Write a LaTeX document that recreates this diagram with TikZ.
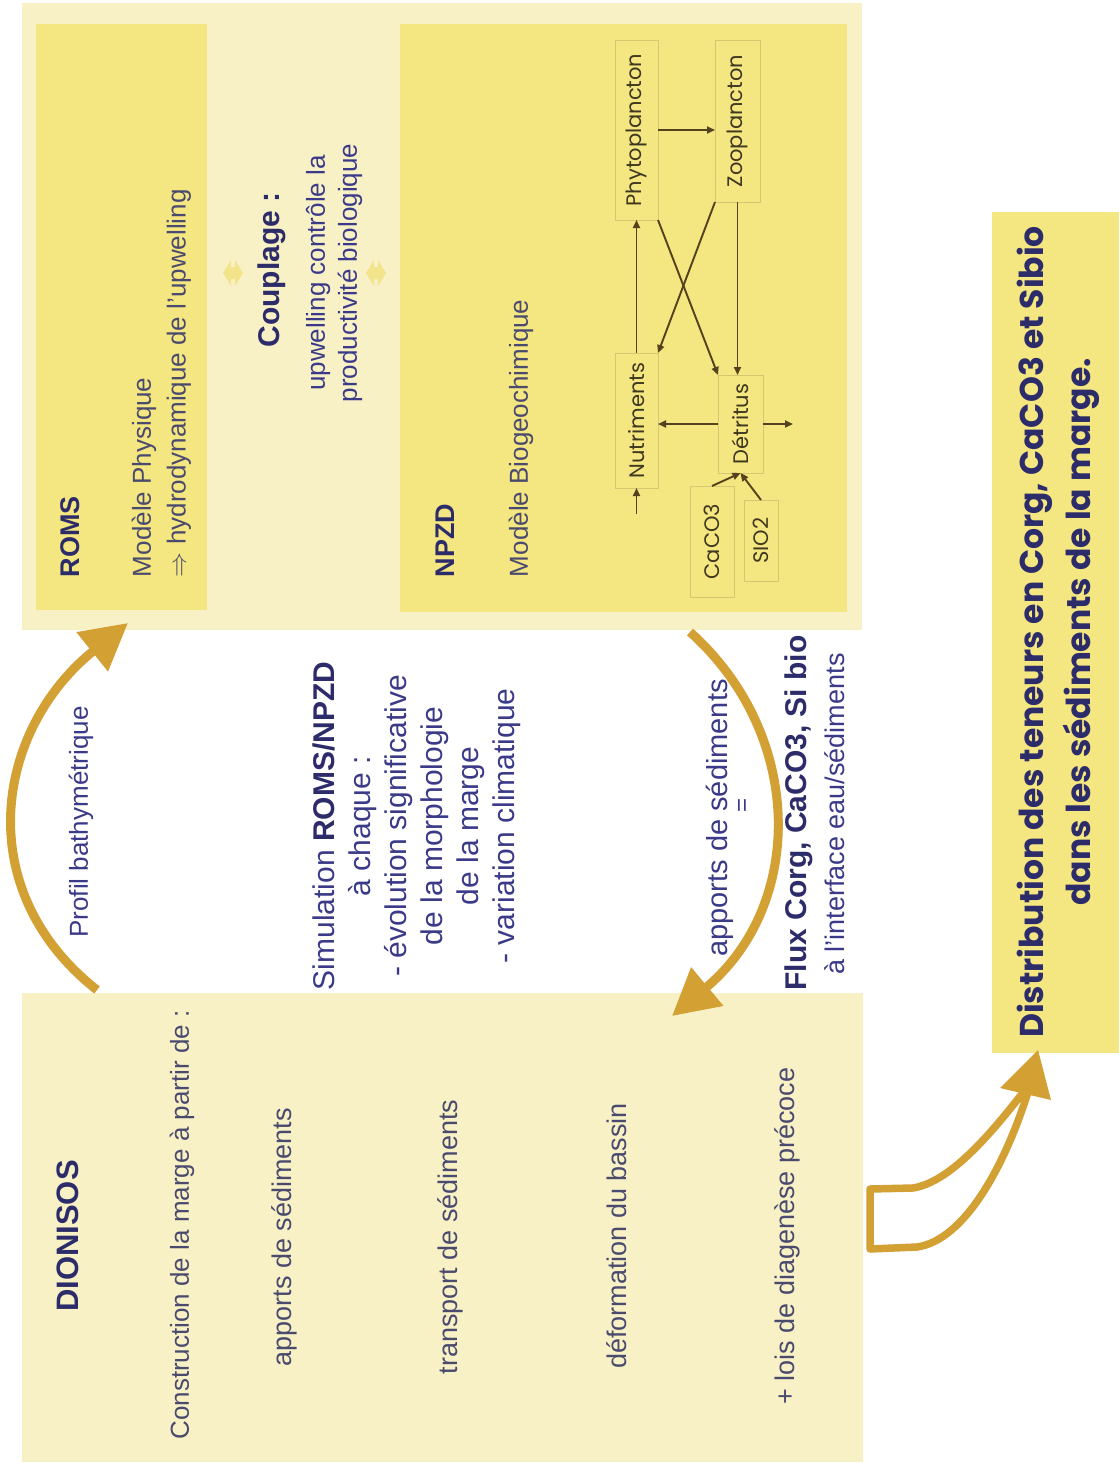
\documentclass[tikz,border=0pt]{standalone}
\usepackage{fontspec}
\setmainfont{Liberation Sans}
\newfontfamily\geo{Poppins}
\usetikzlibrary{arrows.meta}
\definecolor{paleY}{HTML}{F8F1C6}
\definecolor{strongY}{HTML}{F4E680}
\definecolor{arrowgold}{HTML}{D3A034}
\definecolor{navy}{HTML}{2D2C6A}
\definecolor{slate}{HTML}{4A4A6E}
\definecolor{bluetxt}{HTML}{3A3A88}
\definecolor{boxline}{HTML}{D6C873}
\definecolor{diagarrow}{HTML}{52421E}
\definecolor{diagtxt}{HTML}{3F3820}
\definecolor{coupY}{HTML}{F3E38A}
\newcommand{\fsz}[2]{\fontsize{#1}{#2}\selectfont}
\begin{document}
\begin{tikzpicture}[x=1pt,y=-1pt,
  every node/.style={inner sep=0pt, outer sep=0pt},
  region/.style={rectangle, fill=paleY, draw=none},
  ybox/.style={rectangle, fill=strongY, draw=none},
  regtxt/.style={rotate=90, text=slate, font=\fsz{26}{31}},
  bluet/.style={rotate=90, text=bluetxt, font=\fsz{26}{31}},
  ttl/.style={rotate=90, text=navy, font=\bfseries\fsz{27}{32}},
  npbox/.style={rectangle, rotate=90, draw=boxline, line width=1pt, fill=strongY,
     text=diagtxt, font=\geo\fsz{21}{25}},
  darr/.style={draw=diagarrow, line width=1.9pt, -{Triangle[length=8pt,width=7pt]}},
  garc/.style={draw=arrowgold, line width=9pt, -{Triangle[length=46pt,width=48pt]}}
]
\useasboundingbox (0,0) rectangle (1119,1467);
\fill[white] (0,0) rectangle (1119,1467);

% regions
\node[region, minimum width=840pt, minimum height=627pt] (topreg) at (442,316.5) {};
\node[ybox, minimum width=171pt, minimum height=586pt] (roms) at (121.5,317) {};
\node[ybox, minimum width=447pt, minimum height=588pt] (npzd) at (623.5,318) {};
\node[region, minimum width=841pt, minimum height=469pt] (dionisos) at (442.5,1227.5) {};
\node[ybox, minimum width=127pt, minimum height=841pt] (distrib) at (1055.5,632.5) {};

% ROMS texts
\node[ttl, anchor=west] (romsT) at (70,577) {ROMS};
\node[regtxt, anchor=west] (romsA) at (144,577) {Modèle Physique};
\node[regtxt, anchor=west] (romsB) at (179,577) {$\Rightarrow$ hydrodynamique de l'upwelling};

% couplage
\begin{scope}[shift={(233,273)}]
\fill[coupY] (-10,0) -- (-2,-13) -- (-2,-6) -- (2,-6) -- (2,-13) -- (10,0) -- (2,13) -- (2,6) -- (-2,6) -- (-2,13) -- cycle;
\end{scope}
\begin{scope}[shift={(376,273)}]
\fill[coupY] (-10,0) -- (-2,-13) -- (-2,-6) -- (2,-6) -- (2,-13) -- (10,0) -- (2,13) -- (2,6) -- (-2,6) -- (-2,13) -- cycle;
\end{scope}
\node[rotate=90, text=navy, font=\bfseries\fsz{30}{36}] (coupT) at (272,270) {Couplage :};
\node[bluet] (coupA) at (318,273) {upwelling contrôle la};
\node[bluet] (coupB) at (350,273) {productivité biologique};

% NPZD texts
\node[ttl, anchor=west] (npzdT) at (445,577) {NPZD};
\node[regtxt, anchor=west] (npzdA) at (521,577) {Modèle Biogeochimique};

% NPZD diagram
\node[npbox, minimum width=180pt, minimum height=43pt] (phy) at (636.5,130) {Phytoplancton};
\node[npbox, minimum width=162pt, minimum height=45pt] (zoo) at (737.5,121) {Zooplancton};
\node[npbox, minimum width=135pt, minimum height=43pt] (nut) at (636.5,420.5) {Nutriments};
\node[npbox, minimum width=98pt, minimum height=45pt] (det) at (740.5,424) {Détritus};
\node[npbox, minimum width=111pt, minimum height=44pt] (caco) at (712,541.5) {CaCO3};
\node[npbox, minimum width=81pt, minimum height=34pt] (sio) at (761,540.5) {SIO2};
\coordinate (nin) at (636.5,514);
\coordinate (detout) at (793,424);
\draw[darr] (nin) -- (nut.west);
\draw[darr] (nut.east) -- (phy.west);
\draw[darr] (phy.south) -- (zoo.north |- phy.south);
\draw[darr] (zoo.west) -- (zoo.west |- det.east);
\draw[darr] (phy.south west) -- (det.north east);
\draw[darr] (zoo.north west) -- (nut.south east);
\draw[darr] (det.north) -- (nut.south |- det.north);
\draw[darr] (det.south) -- (detout);
\draw[darr] (caco.east) -- (det.west);
\draw[darr] (sio.east) -- (det.west);

% DIONISOS texts
\node[rotate=90, text=navy, font=\bfseries\fsz{31}{36}] (dioT) at (68,1236) {DIONISOS};
\node[regtxt] (dioA) at (182,1225) {Construction de la marge à partir de :};
\node[regtxt, font=\fsz{27}{32}] (dioB) at (284,1237) {apports de sédiments};
\node[regtxt, font=\fsz{27}{32}] (dioC) at (450,1237) {transport de sédiments};
\node[regtxt, font=\fsz{27}{32}] (dioD) at (617,1236) {déformation du bassin};
\node[regtxt, font=\fsz{27}{32}] (dioE) at (787,1236) {+ lois de diagenèse précoce};

% Profil arc
\coordinate (pa) at (97,990);
\coordinate (pb) at (128,623);
\draw[garc] (pa) .. controls (-30,890) and (-5,730) .. (pb);
\node[bluet] (profT) at (81,822) {Profil bathymétrique};

% Simulation block
\node[rotate=90, align=center, text=bluetxt, font=\fsz{30}{36}] (simT) at (417,826)
  {Simulation {\bfseries\color{navy}ROMS/NPZD}\\à chaque :\\- évolution significative\\de la morphologie\\de la marge\\- variation climatique};

% apports arc
\coordinate (aa) at (690,632);
\coordinate (ab) at (672,1016);
\draw[garc] (aa) .. controls (805,735) and (805,905) .. (ab);
\node[rotate=90, text=bluetxt, font=\fsz{29}{34}] (appT) at (720,818) {apports de sédiments};
\node[rotate=90, text=bluetxt, font=\fsz{24}{28}] (eqT) at (744,805) {=};
\node[rotate=90, text=navy, font=\bfseries\fsz{30}{36}] (fluxT) at (799,813) {Flux Corg, CaCO3, Si bio};
\node[rotate=90, text=bluetxt, font=\fsz{27}{31}] (intT) at (835,814) {à l'interface eau/sédiments};

% big hollow arrow
\draw[draw=arrowgold, line width=7.5pt, fill=white, line join=round]
  (1025,1090) .. controls (990,1135) and (950,1182) .. (913,1188) -- (870,1189) -- (870,1249)
  -- (917,1247) .. controls (965,1240) and (1005,1165) .. (1028,1092) -- cycle;
\fill[arrowgold] (1000,1088) -- (1038,1050) -- (1051,1100) -- cycle;

% Distribution text
\node[rotate=90, align=center, text=navy, font=\geo\bfseries\fsz{33}{47}] (distT) at (1058,632)
  {Distribution des teneurs en Corg, CaCO3 et Sibio\\dans les sédiments de la marge.};
\end{tikzpicture}
\end{document}
